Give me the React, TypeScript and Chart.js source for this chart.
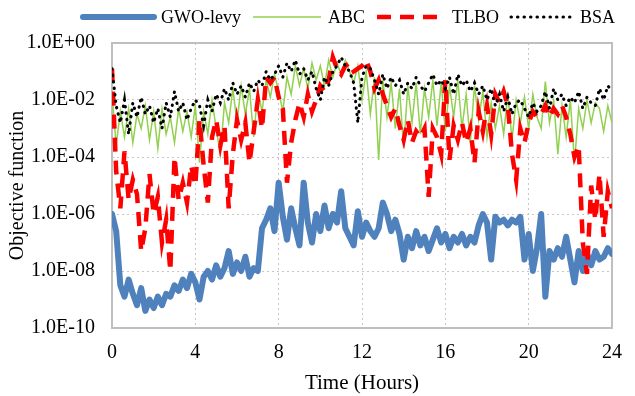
import { useEffect, useRef } from "react";
import { Chart, registerables } from "chart.js";

Chart.register(...registerables);

// ---- data (log10 of objective function, one value every 0.2 h, 0..24 h) ----
const timeStepHours = 0.2;
const seriesNames = ["GWO-levy", "ABC", "TLBO", "BSA"];

const gwoLevyLog10 = [
  -6.0, -6.6, -8.5, -8.9, -8.3, -8.8, -9.2, -8.6, -9.4, -9.0,
  -9.3, -8.9, -9.2, -8.8, -8.9, -8.5, -8.7, -8.3, -8.6, -8.1,
  -8.4, -9.0, -8.2, -8.0, -8.3, -7.8, -8.2, -7.9, -7.3, -8.1,
  -7.7, -8.0, -7.5, -8.2, -7.9, -8.0, -6.5, -6.2, -5.8, -6.6,
  -4.9, -6.1, -6.9, -5.8, -6.5, -7.1, -4.9, -6.3, -7.0, -6.0,
  -6.6, -5.7, -6.5, -6.0, -6.3, -5.2, -6.5, -6.8, -7.1, -5.9,
  -6.8, -6.3, -6.6, -6.8, -6.5, -5.6, -6.0, -6.6, -6.2, -6.7,
  -7.6, -6.8, -7.2, -6.6, -7.1, -6.8, -7.3, -6.9, -6.5, -7.0,
  -6.7, -7.2, -6.8, -7.0, -6.7, -7.1, -6.8, -7.0, -6.4, -6.0,
  -6.3, -7.6, -6.1, -6.3, -6.2, -6.4, -6.2, -6.3, -6.1, -7.6,
  -6.7, -8.0, -7.2, -6.0, -8.9, -7.3, -7.6, -7.2, -7.5, -6.8,
  -7.6, -8.4, -7.3, -8.0, -7.4, -7.8, -7.3, -7.6, -7.5, -7.2, -7.4,
];

const abcLog10 = [
  -1.8, -3.6, -2.4, -3.3, -2.3, -3.5, -2.5, -3.0, -2.2, -3.4,
  -2.4, -3.7, -2.3, -3.2, -2.6, -3.5, -2.3, -3.1, -2.4, -3.3,
  -2.2, -4.2, -2.4, -3.2, -2.0, -3.0, -3.9, -2.1, -2.8, -1.6,
  -2.8, -1.5, -2.5, -1.6, -3.3, -1.7, -2.4, -1.3, -1.9, -1.1,
  -1.7, -2.4, -1.2, -1.8, -0.8, -1.5, -0.9, -1.6, -0.7, -1.3,
  -0.8, -1.5, -0.6, -1.2, -0.7, -1.1, -0.6, -1.0, -1.4, -0.8,
  -2.0, -1.0, -2.5, -1.2, -4.1, -1.3, -2.6, -1.4, -3.0, -1.6,
  -3.7, -1.5, -2.8, -1.4, -3.2, -1.6, -2.6, -1.3, -2.9, -1.4,
  -3.1, -1.5, -2.6, -1.3, -3.0, -1.8, -3.5, -1.5, -2.7, -1.7,
  -3.3, -2.1, -3.0, -2.2, -3.2, -1.8, -3.4, -2.0, -2.8, -1.9,
  -3.0, -1.8, -2.6, -3.0, -1.35, -2.8, -2.0, -3.9, -2.2, -3.3,
  -2.0, -4.2, -2.3, -3.0, -2.0, -2.8, -2.1, -2.3, -3.1, -2.2, -2.8,
];

const tlboLog10 = [
  -0.9, -4.5, -5.8, -3.8, -5.5, -4.8, -5.3, -7.3, -6.5, -4.6,
  -6.0, -5.4, -7.0, -6.2, -8.0, -4.0, -5.5, -4.9, -5.6, -4.3,
  -5.0, -2.7, -4.3, -5.6, -3.3, -2.7, -3.6, -2.9, -5.8, -3.9,
  -2.7, -3.4, -2.8, -4.2, -3.1, -2.0, -3.0, -1.2, -1.4, -1.2,
  -1.9, -2.3, -4.9, -3.5, -2.7, -2.1, -2.6, -1.8, -2.4, -2.0,
  -1.5, -1.7, -1.3, -0.5, -0.9, -1.1, -0.8, -0.7, -1.0, -0.9,
  -0.8, -0.6, -1.0, -1.6, -1.3, -1.8, -2.2, -2.6, -2.3, -2.9,
  -3.4, -2.7, -3.5, -3.1, -3.3, -3.0, -5.4, -3.0, -3.3, -3.9,
  -1.3, -4.1, -2.9, -3.4, -2.8, -3.5, -3.0, -4.2, -2.4, -3.1,
  -2.2, -3.2, -1.8, -2.1, -1.7, -2.2, -3.9, -4.8, -3.0, -3.5,
  -2.8, -2.4, -2.6, -2.5, -2.2, -2.6, -2.3, -2.5, -2.2, -2.6,
  -3.2, -4.0, -3.6, -7.0, -8.1, -5.0, -6.2, -4.6, -6.8, -5.2, -5.8,
];

const bsaLog10 = [
  -0.9, -2.2, -2.8, -2.0, -3.2, -2.1, -2.6, -1.9, -2.5, -2.2,
  -2.8, -2.3, -3.0, -2.1, -2.6, -1.7, -2.4, -2.1, -2.7, -2.3,
  -2.0, -2.2, -2.9, -2.0, -2.4, -1.8, -2.1, -1.6, -2.0, -1.4,
  -1.8, -1.5, -1.9, -1.4, -1.7, -1.3, -1.5, -1.0, -1.3, -1.1,
  -0.8, -1.2, -0.7, -1.0, -0.6, -1.1, -0.9, -1.3, -1.0, -1.6,
  -2.0, -1.2, -1.5, -1.0, -0.8, -0.5, -0.8, -1.0, -1.4, -2.8,
  -1.2, -0.8, -0.9, -1.3, -1.8, -1.1, -1.6, -1.2, -1.5, -1.3,
  -1.8, -1.4, -1.6, -1.2, -1.5, -1.7, -1.4, -1.1, -1.5, -1.3,
  -1.6, -1.2, -1.8, -1.1, -1.5, -1.3, -1.7, -1.4, -1.8, -1.5,
  -2.0, -1.6, -2.2, -1.8, -2.4, -1.9, -2.5, -2.1, -2.0, -2.3,
  -2.6, -2.1, -2.4, -2.2, -1.7, -2.3, -1.6, -2.0, -1.8, -2.2,
  -1.9, -2.1, -1.7, -2.3, -1.9, -2.1, -2.2, -1.6, -2.0, -1.5, -1.7,
];

const xTickValues = [0, 4, 8, 12, 16, 20, 24];
const yTickValues = [1e-10, 1e-8, 1e-6, 1e-4, 1e-2, 1];
const yTickLabels = ["1.0E-10", "1.0E-08", "1.0E-06", "1.0E-04", "1.0E-02", "1.0E+00"];

// ---- styles ----
const FONT = '"Liberation Serif", "Times New Roman", serif';
const legendSampleLengths = [71, 68, 68, 62];

function toPoints(logs: number[]) {
  return logs.map((e, i) => ({ x: Math.round(i * timeStepHours * 10) / 10, y: Math.pow(10, e) }));
}

const framePlugin = {
  id: "plotFrame",
  beforeDatasetsDraw(chart: any) {
    const { ctx, chartArea } = chart;
    const { left, top, right, bottom } = chartArea;
    ctx.save();
    ctx.strokeStyle = "#BFBFBF";
    ctx.lineWidth = 2;
    ctx.setLineDash([]);
    ctx.strokeRect(left, top, right - left, bottom - top);
    ctx.restore();
  },
};

const lineLegendPlugin = {
  id: "lineLegend",
  afterDraw(chart: any) {
    const ctx = chart.ctx as CanvasRenderingContext2D;
    ctx.save();
    ctx.font = `18px ${FONT}`;
    ctx.textBaseline = "middle";
    ctx.textAlign = "left";
    let x = 83;
    const y = 17;
    chart.data.datasets.forEach((ds: any, i: number) => {
      const len = legendSampleLengths[i];
      ctx.beginPath();
      ctx.strokeStyle = ds.borderColor;
      ctx.lineWidth = ds.borderWidth;
      ctx.setLineDash(ds.borderDash || []);
      ctx.lineCap = ds.borderCapStyle || "butt";
      ctx.moveTo(x, y);
      ctx.lineTo(x + len, y);
      ctx.stroke();
      ctx.setLineDash([]);
      x += len + 7;
      ctx.fillStyle = "#000";
      ctx.fillText(ds.label, x, y + 1);
      x += ctx.measureText(ds.label).width + 12;
    });
    ctx.restore();
  },
};

export default function App() {
  const canvasRef = useRef<HTMLCanvasElement | null>(null);

  useEffect(() => {
    document.body.style.margin = "0";
    const canvas = canvasRef.current;
    if (!canvas) return;
    Chart.defaults.font.family = FONT;
    Chart.defaults.color = "#000";

    const chart = new Chart(canvas, {
      type: "line",
      data: {
        datasets: [
          {
            label: seriesNames[0],
            data: toPoints(gwoLevyLog10),
            borderColor: "#4F81BD",
            borderWidth: 6,
            borderJoinStyle: "round",
            borderCapStyle: "round",
            order: 4,
          },
          {
            label: seriesNames[1],
            data: toPoints(abcLog10),
            borderColor: "#92D050",
            borderWidth: 1.5,
            order: 3,
          },
          {
            label: seriesNames[2],
            data: toPoints(tlboLog10),
            borderColor: "#FF0000",
            borderWidth: 4.5,
            borderDash: [14, 9],
            order: 2,
          },
          {
            label: seriesNames[3],
            data: toPoints(bsaLog10),
            borderColor: "#000000",
            borderWidth: 3,
            borderDash: [0.5, 6],
            borderCapStyle: "round",
            order: 1,
          },
        ] as any,
      },
      options: {
        responsive: false,
        animation: false,
        devicePixelRatio: 1,
        layout: { padding: { top: 43, right: 11, bottom: 0, left: 0 } },
        elements: { point: { radius: 0 }, line: { tension: 0, fill: false } },
        plugins: {
          legend: { display: false },
          tooltip: { enabled: false },
        },
        scales: {
          x: {
            type: "linear",
            min: 0,
            max: 24,
            afterBuildTicks: (scale: any) => {
              scale.ticks = xTickValues.map((v) => ({ value: v }));
            },
            afterFit: (scale: any) => {
              scale.height = 68;
            },
            ticks: {
              font: { size: 20, family: FONT },
              color: "#000",
              padding: 13,
              maxRotation: 0,
              autoSkip: false,
              callback: (v: any) => String(v),
            },
            grid: { color: "#C6C6C6", lineWidth: 1, drawTicks: false },
            border: { display: false, dash: [2, 3] },
            title: {
              display: true,
              text: "Time (Hours)",
              font: { size: 21, family: FONT },
              color: "#000",
              padding: { top: 0, bottom: 0 },
            },
          },
          y: {
            type: "logarithmic",
            min: 1e-10,
            max: 1,
            afterBuildTicks: (scale: any) => {
              scale.ticks = yTickValues.map((v) => ({ value: v }));
            },
            afterFit: (scale: any) => {
              scale.width = 112;
            },
            ticks: {
              font: { size: 20, family: FONT },
              color: "#000",
              padding: 17,
              autoSkip: false,
              callback: (_v: any, index: number) => yTickLabels[index],
            },
            grid: { color: "#C6C6C6", lineWidth: 1, drawTicks: false },
            border: { display: false, dash: [2, 3] },
            title: {
              display: true,
              text: "Objective function",
              font: { size: 20, family: FONT },
              color: "#000",
              padding: { top: 6, bottom: 0 },
            },
          },
        },
      } as any,
      plugins: [framePlugin, lineLegendPlugin],
    });

    return () => chart.destroy();
  }, []);

  return (
    <div style={{ position: "fixed", left: 0, top: 0, width: 635, height: 396 }}>
      <canvas ref={canvasRef} width={635} height={396} style={{ display: "block" }} />
    </div>
  );
}
